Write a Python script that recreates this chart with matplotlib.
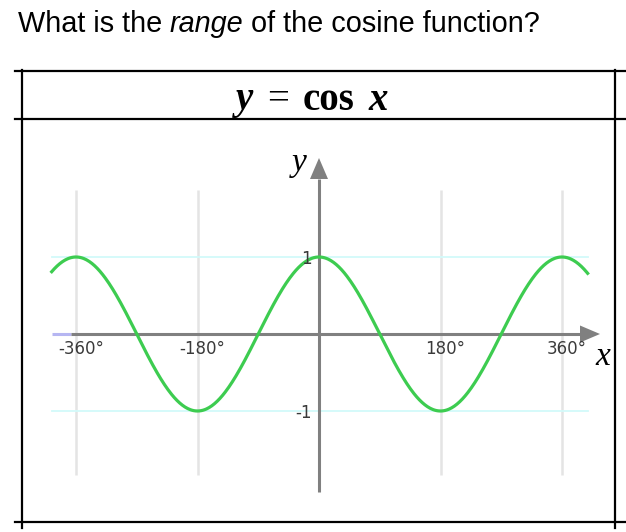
import numpy as np
import matplotlib.pyplot as plt
from matplotlib.offsetbox import TextArea, HPacker, AnnotationBbox

# dados do gráfico
angulos_grade = [-360, -180, 180, 360]
rotulos_x = ['-360°', '-180°', '180°', '360°']
valores_y = [1, -1]
rotulos_y = ['1', '-1']
x_inicio, x_fim = -396, 398          # extensão da curva (graus)
x_lilas_fim = -367                   # trecho lilás no começo do eixo x

W, H = 626, 532
fig = plt.figure(figsize=(W / 100, H / 100), dpi=100)

# eixos em pixels: 0° -> x=319, 180° por 121.5 px; y=0 -> 334, 1 unidade = 77 px
px_l, px_r, px_t, px_b = 40, 612, 150, 500
esc_x = 180 / 121.5
esc_y = 1 / 77
ax = fig.add_axes([px_l / W, 1 - px_b / H, (px_r - px_l) / W, (px_b - px_t) / H])
ax.set_xlim((px_l - 319) * esc_x, (px_r - 319) * esc_x)
ax.set_ylim((334 - px_b) * esc_y, (334 - px_t) * esc_y)
ax.axis('off')

# grade vertical
for a in angulos_grade:
    ax.plot([a, a], [(334 - 475) * esc_y, (334 - 190) * esc_y], color='#e4e4e4', lw=1.8,
            solid_capstyle='butt', zorder=1)
# linhas de 1 e -1
for v in valores_y:
    ax.plot([x_inicio, x_fim], [v, v], color='#d2fafa', lw=1.3, zorder=1)

# eixo x
ax.plot([x_inicio, x_lilas_fim], [0, 0], color='#b6b6f2', lw=2.2, solid_capstyle='butt', zorder=2)
seta_x_base, seta_x_ponta = (580 - 319) * esc_x, (600 - 319) * esc_x
ax.plot([x_lilas_fim, seta_x_base], [0, 0], color='#808080', lw=2.2, solid_capstyle='butt', zorder=2)
ax.fill([seta_x_base, seta_x_ponta, seta_x_base], [8.5 * esc_y, 0, -8.5 * esc_y],
        color='#808080', lw=0, zorder=2)

# eixo y
seta_y_base, seta_y_ponta = (334 - 179) * esc_y, (334 - 158) * esc_y
ax.plot([0, 0], [(334 - 492) * esc_y, seta_y_base], color='#808080', lw=2.2,
        solid_capstyle='butt', zorder=2)
ax.fill([-9 * esc_x, 0, 9 * esc_x], [seta_y_base, seta_y_ponta, seta_y_base],
        color='#808080', lw=0, zorder=2)

# curva
xs = np.linspace(x_inicio, x_fim, 600)
ax.plot(xs, np.cos(np.radians(xs)), color='#3dcc50', lw=2.3, zorder=3)

# rótulos
for a, r in zip(angulos_grade, rotulos_x):
    ax.text(a + 5 * esc_x, -15 * esc_y, r, ha='center', va='center', fontsize=12,
            family='DejaVu Sans', color='#3a3a3a', zorder=4)
for v, r in zip(valores_y, rotulos_y):
    ax.text(-7 * esc_x, v - 2 * esc_y, r, ha='right', va='center', fontsize=12,
            family='DejaVu Sans', color='#3a3a3a', zorder=4)
ax.text((603 - 319) * esc_x, (334 - 357) * esc_y, 'x', ha='center', va='center',
        fontsize=24, family='Liberation Serif', style='italic', color='black')
ax.text((299 - 319) * esc_x, (334 - 163) * esc_y, 'y', ha='center', va='center',
        fontsize=24, family='Liberation Serif', style='italic', color='black')

# título
fonte_t = dict(fontsize=20.8, family='Liberation Sans', color='black')
titulo = HPacker(children=[TextArea('What is the', textprops=fonte_t),
                           TextArea('range', textprops=dict(fonte_t, style='italic')),
                           TextArea('of the cosine function?', textprops=fonte_t)],
                 align='baseline', pad=0, sep=5.5)
fig.add_artist(AnnotationBbox(titulo, (18 / W, 1 - 24 / H), xycoords='figure fraction',
                              box_alignment=(0, 0.5), frameon=False))

# cabeçalho da tabela
fonte_c = dict(fontsize=28, family='Liberation Serif', color='black', weight='bold')
cab = HPacker(children=[TextArea('y', textprops=dict(fonte_c, style='italic')),
                        TextArea('=', textprops=dict(fonte_c, weight='normal')),
                        TextArea('cos', textprops=fonte_c),
                        TextArea('x', textprops=dict(fonte_c, style='italic'))],
              align='baseline', pad=0, sep=10)
fig.add_artist(AnnotationBbox(cab, (312 / W, 1 - 100 / H), xycoords='figure fraction',
                              box_alignment=(0.5, 0.5), frameon=False))

# linhas da tabela
for yl in [70.5, 119, 522]:
    fig.add_artist(plt.Line2D([15 / W, 1], [1 - yl / H] * 2, color='black', lw=1.6))
for xl in [22, 615]:
    fig.add_artist(plt.Line2D([xl / W] * 2, [1 - 70 / H, 1 - 528 / H], color='black', lw=1.6))

fig.savefig('out.png', dpi=100)
